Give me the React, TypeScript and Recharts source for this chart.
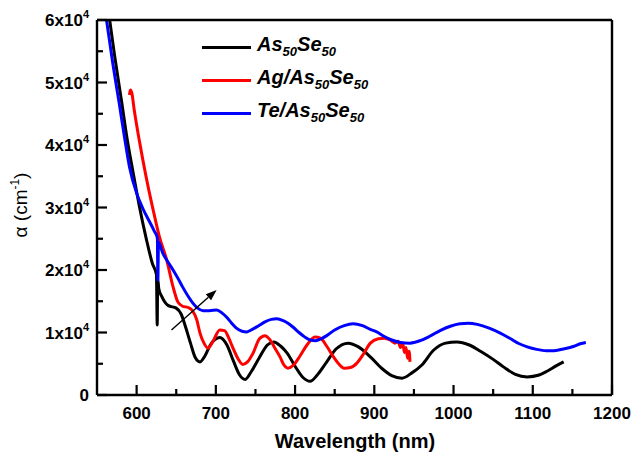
import React from 'react';
import { LineChart, Line, XAxis, YAxis, ReferenceLine } from 'recharts';

// wavelength (nm) / alpha (cm^-1)
const as50se50 = [
  [566, 60000], [572, 54500], [581, 47000], [588, 41000], [595, 36000], [603, 30500],
  [612, 25100], [620, 21000], [625, 19300], [626, 11200], [626.6, 18600], [628, 17000],
  [632, 15700], [640, 14300], [650, 13900], [656, 13000], [662, 10800], [668, 8300],
  [674, 6000], [680, 5300], [686, 6200], [693, 8000], [705, 9200], [714, 8000],
  [722, 5500], [730, 3200], [737, 2500], [745, 3800], [755, 6000], [765, 8000],
  [773, 8500], [782, 7800], [790, 6700], [800, 4600], [810, 2800], [819, 2200],
  [828, 3200], [840, 5300], [852, 7400], [867, 8300], [880, 7700], [895, 6100],
  [910, 4200], [922, 3100], [935, 2700], [947, 3500], [960, 4800], [975, 7200],
  [990, 8300], [1004, 8500], [1020, 8000], [1034, 7000], [1050, 5700], [1063, 4500],
  [1078, 3300], [1093, 2900], [1108, 3200], [1118, 3800], [1130, 4700], [1139, 5300],
];

const agAs50se50 = [
  [591, 48000], [592, 48800], [594, 48300], [597, 45600], [604, 40300], [612, 34900],
  [620, 30100], [629, 25200], [638, 21600], [646, 17300], [652, 14900], [658, 14200],
  [665, 14000], [671, 13400], [676, 12000], [680, 9900], [685, 8300], [690, 7500],
  [696, 8500], [705, 10400], [711, 10300], [716, 9200], [721, 7700], [728, 5800],
  [734, 4900], [740, 5300], [747, 6700], [755, 9000], [762, 9500], [768, 8900],
  [775, 7400], [781, 6100], [786, 4800], [791, 4300], [798, 4800], [806, 6200],
  [815, 8000], [825, 9300], [832, 9100], [840, 7800], [848, 6200], [855, 5000],
  [862, 4300], [870, 4400], [878, 5100], [886, 6500], [895, 8300], [905, 9000],
  [913, 9100], [920, 8800], [926, 8300], [930, 8600], [933, 7600], [936, 8200],
  [938, 6800], [940, 7600], [942, 5900], [944, 7000], [945, 5300],
];

const teAs50se50 = [
  [562, 60000], [570, 53000], [578, 46700], [585, 41000], [591, 36500], [600, 32300],
  [608, 29800], [616, 27800], [622, 26300], [626.2, 25100], [626.8, 18400], [627.6, 24500],
  [633, 22700], [640, 21200], [646, 20000], [652, 18700], [658, 17300], [665, 15800],
  [671, 14700], [677, 13900], [684, 13500], [692, 13500], [701, 13600], [708, 13100],
  [714, 12400], [720, 11500], [726, 10700], [733, 10200], [739, 10100], [746, 10500],
  [753, 11000], [762, 11700], [770, 12100], [777, 12200], [785, 11900], [792, 11400],
  [798, 10800], [805, 10000], [812, 9300], [819, 8800], [826, 8700], [833, 9000],
  [840, 9500], [850, 10400], [862, 11100], [873, 11400], [885, 11100], [895, 10500],
  [903, 10100], [912, 9400], [922, 8800], [933, 8400], [945, 8300], [958, 8700],
  [970, 9400], [983, 10300], [996, 11000], [1008, 11400], [1019, 11500], [1030, 11300],
  [1045, 10700], [1059, 9900], [1072, 9000], [1083, 8200], [1093, 7700], [1105, 7300],
  [1117, 7100], [1127, 7100], [1140, 7400], [1152, 7800], [1160, 8200], [1167, 8400],
];

const xTicks = [600, 650, 700, 750, 800, 850, 900, 950, 1000, 1050, 1100, 1150, 1200];
const yTicks = [0, 5000, 10000, 15000, 20000, 25000, 30000, 35000, 40000, 45000, 50000, 55000, 60000];

const series = [
  { name: 'As', label: ['', 'As', '50', 'Se', '50'], data: as50se50, color: '#000000' },
  { name: 'Ag', label: ['Ag/', 'As', '50', 'Se', '50'], data: agAs50se50, color: '#ff0000' },
  { name: 'Te', label: ['Te/', 'As', '50', 'Se', '50'], data: teAs50se50, color: '#0000ff' },
];

const toPoints = (arr: number[][]) => arr.map(([x, y]) => ({ x, y }));

const font = '"Liberation Sans", Arial, sans-serif';

const renderXTick = (props: any) => {
  const { x, y, payload } = props;
  if (payload.value % 100 !== 0) return <g key={`xt-${payload.value}`} />;
  return (
    <text key={`xt-${payload.value}`} x={x} y={y + 16} textAnchor="middle" fontFamily={font} fontWeight="bold" fontSize={17} fill="#000">
      {payload.value}
    </text>
  );
};

const renderYTick = (props: any) => {
  const { x, y, payload } = props;
  const v = payload.value;
  if (v % 10000 !== 0) return <g key={`yt-${v}`} />;
  return (
    <text key={`yt-${v}`} x={x} y={y + 6} textAnchor="end" fontFamily={font} fontWeight="bold" fontSize={17} fill="#000">
      {v === 0 ? '0' : (
        <>
          {v / 10000}x10
          <tspan dy={-8} fontSize={11}>4</tspan>
        </>
      )}
    </text>
  );
};

// inward tick marks, placed through the chart scales
const XTickMark = (p: any) => {
  const len = p.major ? 10 : 6;
  return <rect x={p.x1 - 1.1} y={p.y1 - len} width={2.2} height={len} fill="#000" />;
};

const YTickMark = (p: any) => {
  const len = p.major ? 10 : 6;
  return <rect x={p.x1} y={p.y1 - 1.1} width={len} height={2.2} fill="#000" />;
};

const Arrow = (p: any) => {
  const { x1, y1, x2, y2 } = p;
  const ang = Math.atan2(y2 - y1, x2 - x1);
  const L = 11;
  const W = 4;
  const bx = x2 - L * Math.cos(ang);
  const by = y2 - L * Math.sin(ang);
  const px = -Math.sin(ang) * W;
  const py = Math.cos(ang) * W;
  return (
    <g>
      <line x1={x1} y1={y1} x2={bx} y2={by} stroke="#000" strokeWidth={1.4} />
      <polygon points={`${x2},${y2} ${bx + px},${by + py} ${bx - px},${by - py}`} fill="#000" />
    </g>
  );
};

const LegendBox = () => (
  <div style={{ position: 'absolute', left: 202, top: 31, fontFamily: font }}>
    {series.map((s) => (
      <div key={s.name} style={{ display: 'flex', alignItems: 'center', height: 33 }}>
        <span style={{ width: 49, height: 3, background: s.color, display: 'inline-block' }} />
        <span style={{ marginLeft: 6, fontWeight: 'bold', fontStyle: 'italic', fontSize: 20, lineHeight: '20px' }}>
          {s.label[0]}{s.label[1]}
          <sub style={{ fontSize: 13 }}>{s.label[2]}</sub>
          {s.label[3]}
          <sub style={{ fontSize: 13 }}>{s.label[4]}</sub>
        </span>
      </div>
    ))}
  </div>
);

const frameLine = { stroke: '#000', strokeWidth: 2.4 };

export default function App() {
  return (
    <div style={{ position: 'absolute', left: 0, top: 0, width: 632, height: 454, background: '#fff' }}>
      <LineChart width={632} height={454} margin={{ top: 19, right: 19, bottom: 29, left: 37 }}>
        <XAxis
          type="number"
          dataKey="x"
          domain={[550, 1200]}
          ticks={xTicks}
          interval={0}
          height={30}
          tickSize={0}
          tickMargin={8}
          tickLine={false}
          tick={renderXTick}
          axisLine={frameLine}
          allowDataOverflow
        />
        <XAxis
          xAxisId="top"
          orientation="top"
          type="number"
          dataKey="x"
          domain={[550, 1200]}
          height={1}
          tick={false}
          tickLine={false}
          axisLine={frameLine}
        />
        <YAxis
          type="number"
          dataKey="y"
          domain={[0, 60000]}
          ticks={yTicks}
          interval={0}
          width={60}
          tickSize={0}
          tickMargin={8}
          tickLine={false}
          tick={renderYTick}
          axisLine={frameLine}
          allowDataOverflow
        />
        <YAxis
          yAxisId="right"
          orientation="right"
          type="number"
          domain={[0, 60000]}
          width={1}
          tick={false}
          tickLine={false}
          axisLine={frameLine}
        />
        {series.map((s) => (
          <Line
            key={s.name}
            data={toPoints(s.data)}
            dataKey="y"
            type="monotone"
            dot={false}
            stroke={s.color}
            strokeWidth={3}
            isAnimationActive={false}
          />
        ))}
        {xTicks.map((v) => (
          <ReferenceLine
            key={`xm-${v}`}
            segment={[{ x: v, y: 0 }, { x: v, y: 1000 }]}
            ifOverflow="visible"
            shape={<XTickMark major={v % 100 === 0} />}
          />
        ))}
        {yTicks.map((v) => (
          <ReferenceLine
            key={`ym-${v}`}
            segment={[{ x: 550, y: v }, { x: 560, y: v }]}
            ifOverflow="visible"
            shape={<YTickMark major={v % 10000 === 0} />}
          />
        ))}
        <ReferenceLine
          segment={[{ x: 644, y: 10400 }, { x: 701, y: 16800 }]}
          shape={<Arrow />}
        />
        <text x={355} y={448} textAnchor="middle" fontFamily={font} fontWeight="bold" fontSize={20} fill="#000">
          Wavelength (nm)
        </text>
        <text
          x={0}
          y={0}
          transform="translate(27, 205) rotate(-90)"
          textAnchor="middle"
          fontFamily={font}
          fontSize={19}
          fill="#000"
        >
          α (cm<tspan dy={-8} fontSize={12}>-1</tspan><tspan dy={8}>)</tspan>
        </text>
      </LineChart>
      <LegendBox />
    </div>
  );
}
